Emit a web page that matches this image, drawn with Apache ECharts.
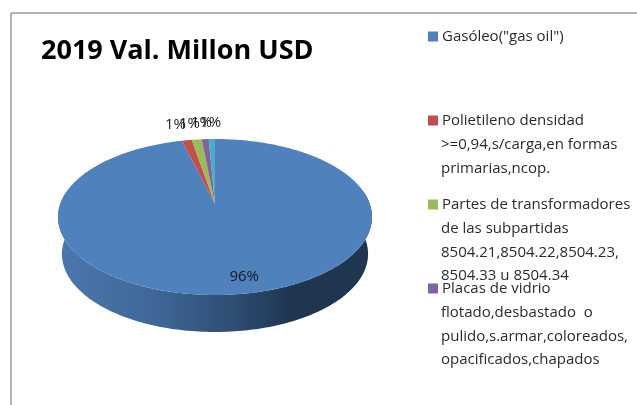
<!DOCTYPE html>
<html>
<head>
<meta charset="utf-8">
<style>
  html, body { margin: 0; padding: 0; background: #fff; }
  #chart { width: 637px; height: 405px; }
</style>
<script src="https://cdn.jsdelivr.net/npm/echarts@6/dist/echarts.min.js"></script>
</head>
<body>
<div id="chart"></div>
<script>
// Valores
const categories = [
  'Gasóleo("gas oil")',
  'Polietileno densidad',
  'Partes de transformadores',
  'Placas de vidrio',
  'Otros'
];
const values = [96, 1.2, 1.2, 0.85, 0.75];
const colors = ['#4F81BD', '#C0504D', '#9BBB59', '#8064A2', '#4BACC6'];
const legendExtra = [
  '',
  '>=0,94,s/carga,en formas\nprimarias,ncop.',
  'de las subpartidas\n8504.21,8504.22,8504.23,\n8504.33 u 8504.34',
  'flotado,desbastado  o\npulido,s.armar,coloreados,\nopacificados,chapados'
];
const legendTops = [29, 113, 197, 281];
const textFont = '"Open Sans", sans-serif';

const total = values.reduce((a, b) => a + b, 0);

// proyeccion del circulo unidad a la elipse con perspectiva (estilo pie 3D de Excel)
function project(angle, r) {
  const u = Math.sin(angle) * r;
  const v = -Math.cos(angle) * r;
  const w = 1 - v / 6;
  return [215 + 154.8 * u / w, (41.83 * v + 204) / w];
}

function sliceAngles(i) {
  const before = values.slice(0, i).reduce((a, b) => a + b, 0);
  return [before / total * Math.PI * 2, (before + values[i]) / total * Math.PI * 2];
}

function rimPoints(a0, a1) {
  const pts = [];
  const n = Math.max(2, Math.ceil((a1 - a0) / 0.02));
  for (let k = 0; k <= n; k++) {
    pts.push(project(a0 + (a1 - a0) * k / n, 1));
  }
  return pts;
}

function renderSlice(i) {
  return function () {
    const [a0, a1] = sliceAngles(i);
    const children = [];
    if (i === 0) {
      // pared lateral visible del frente
      const front = rimPoints(Math.PI * 0.445, Math.PI * 1.555);
      const lower = front.slice().reverse().map(p => [215 + (p[0] - 215) * 0.975, p[1] + 37]);
      children.push({
        type: 'polygon',
        shape: { points: front.concat(lower) },
        style: {
          fill: {
            type: 'linear', x: 58, y: 0, x2: 372, y2: 0, global: true,
            colorStops: [
              { offset: 0, color: '#4A78AE' },
              { offset: 0.3, color: '#3F6898' },
              { offset: 0.55, color: '#2E4E74' },
              { offset: 0.75, color: '#1F3550' },
              { offset: 1, color: '#1F3550' }
            ]
          }
        }
      });
    }
    const center = project(0, 0);
    children.push({
      type: 'polygon',
      shape: { points: [center].concat(rimPoints(a0, a1)) },
      style: { fill: colors[i] }
    });
    const mid = (a0 + a1) / 2;
    const pos = i === 0 ? project(mid, 0.85) : project(mid, 1);
    children.push({
      type: 'text',
      x: i === 0 ? pos[0] + 10 : 215 + (pos[0] - 215) * 1.4,
      y: i === 0 ? pos[1] - 2 : pos[1] - 16,
      z2: 10,
      style: {
        text: Math.round(values[i] / total * 100) + '%',
        font: '15px ' + textFont,
        fill: '#1a1a1a',
        align: 'center',
        verticalAlign: 'middle'
      }
    });
    return { type: 'group', children: children };
  };
}

const myChart = echarts.init(document.getElementById('chart'));

const option = {
  animation: false,
  backgroundColor: '#fff',
  title: [
    {
      text: '2019 Val. Millon USD',
      left: 41, top: 38,
      padding: 0,
      textStyle: { fontFamily: textFont, fontSize: 27, fontWeight: 'bold', color: '#000' }
    }
  ].concat(legendExtra.map((t, i) => ({
    text: t,
    left: 441, top: legendTops[i] + 20,
    padding: 0,
    textStyle: { fontFamily: textFont, fontSize: 15, fontWeight: 'normal', color: '#2b2b2b', lineHeight: 23.5 }
  }))),
  legend: legendTops.map((top, i) => ({
    data: [categories[i]],
    left: 428, top: top,
    padding: 0,
    itemWidth: 10, itemHeight: 10, itemGap: 0,
    icon: 'rect',
    selectedMode: false,
    textStyle: { fontFamily: textFont, fontSize: 15, color: '#2b2b2b', padding: [0, 0, 0, -1] }
  })),
  graphic: [
    { type: 'line', shape: { x1: 11, y1: 13, x2: 637, y2: 13 }, style: { stroke: '#b2b2b2', lineWidth: 2 } },
    { type: 'line', shape: { x1: 11, y1: 13, x2: 11, y2: 405 }, style: { stroke: '#b2b2b2', lineWidth: 2 } }
  ],
  series: categories.map((name, i) => ({
    name: name,
    type: 'custom',
    coordinateSystem: 'none',
    itemStyle: { color: colors[i] },
    renderItem: renderSlice(i),
    data: [values[i]]
  }))
};

myChart.setOption(option);
</script>
</body>
</html>
